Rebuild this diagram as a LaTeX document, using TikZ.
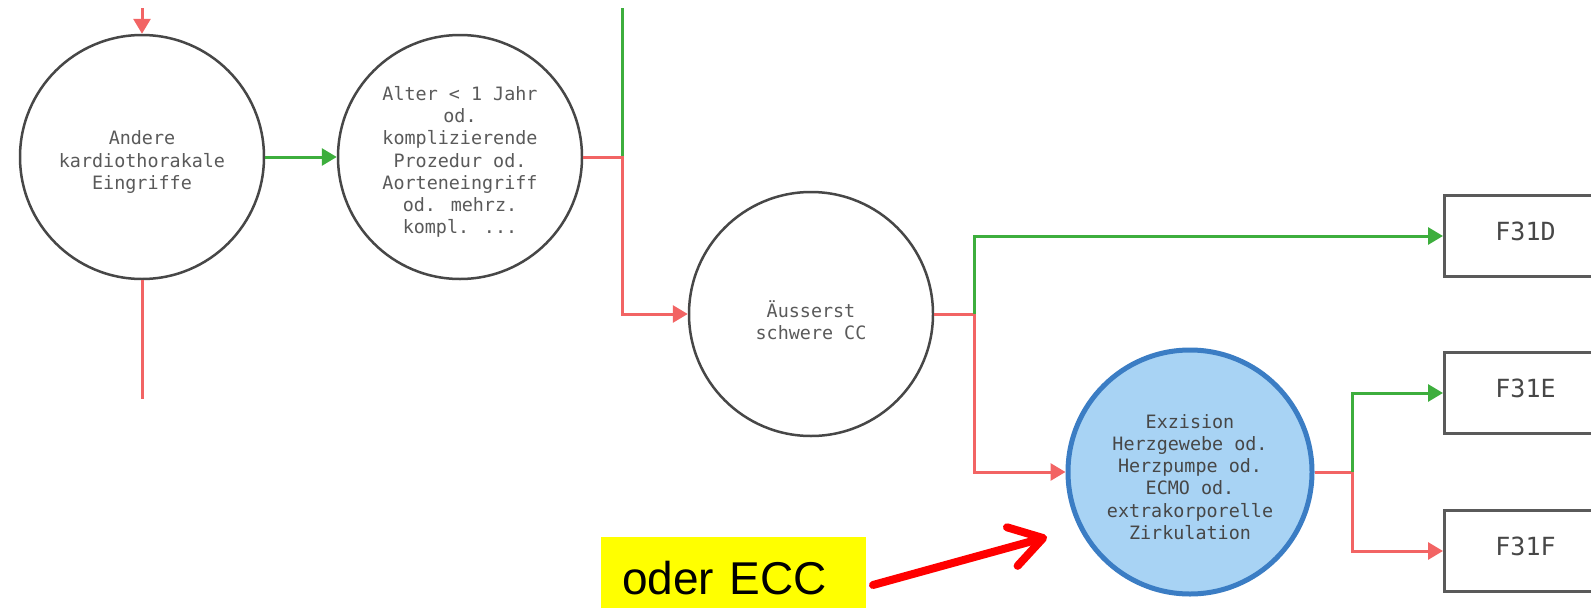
\documentclass[tikz,border=0pt]{standalone}
\usepackage{fontspec}
\setmainfont{Liberation Sans}
\newfontfamily\diagmono{DejaVu Sans Mono}
\usetikzlibrary{arrows.meta}
\definecolor{lgreen}{HTML}{3DAE3D}
\definecolor{lred}{HTML}{F26464}
\definecolor{cgray}{HTML}{474747}
\definecolor{tgray}{HTML}{5A5A5A}
\definecolor{cblue}{HTML}{3B7DC4}
\definecolor{cfill}{HTML}{A8D3F4}
\definecolor{annotred}{HTML}{FF0000}
\definecolor{hiyellow}{HTML}{FFFF00}
\begin{document}
\begin{tikzpicture}[x=1pt,y=-1pt,
  decision/.style={circle, draw=cgray, line width=2.5pt, minimum size=244pt, inner sep=0pt},
  hlcirc/.style={decision, draw=cblue, fill=cfill, line width=5pt},
  ctext/.style={align=center, inner sep=0pt, text=tgray, font=\diagmono\fontsize{18.4}{22.2}\selectfont},
  result/.style={draw=tgray, line width=3pt, minimum width=162pt, minimum height=81pt,
    anchor=west, inner sep=0pt, text depth=10pt, text=black!72,
    font=\diagmono\fontsize{25}{30}\selectfont},
  yesarrow/.style={draw=lgreen, line width=3pt, -{Triangle[length=15pt,width=17pt]}},
  yesline/.style={draw=lgreen, line width=3pt},
  noarrow/.style={draw=lred, line width=3pt, -{Triangle[length=15pt,width=17pt]}},
  noline/.style={draw=lred, line width=3pt},
  annot/.style={draw=annotred, line width=8pt, line cap=round,
    -{Straight Barb[length=32pt,width=40pt,round]}},
  hlbox/.style={fill=hiyellow, minimum width=265pt, minimum height=82pt, anchor=north west,
    inner xsep=21pt, text width=223pt, align=left, font=\fontsize{46}{50}\selectfont}
]
\useasboundingbox (0,0) rectangle (1591,608);
\fill[white] (0,0) rectangle (1591,608);
\clip (0,0) rectangle (1591,608);

% decision circles
\node[decision] (c1) at (142,157) {};
\node[ctext] (c1t) at ([yshift=-5pt]c1.center) {Andere\\kardiothorakale\\Eingriffe};
\node[decision] (c2) at (460,157) {};
\node[ctext] (c2t) at ([yshift=-5pt]c2.center) {Alter < 1 Jahr\\od.\\komplizierende\\Prozedur od.\\Aorteneingriff\\od. mehrz.\\kompl. ...};
\node[decision] (c3) at (811,314) {};
\node[ctext] (c3t) at ([yshift=-6pt]c3.center) {Äusserst\\schwere CC};
\node[hlcirc] (c4) at (1190,472) {};
\node[ctext, text=black!72] (c4t) at ([yshift=-5pt]c4.center) {Exzision\\Herzgewebe od.\\Herzpumpe od.\\ECMO od.\\extrakorporelle\\Zirkulation};

% results
\node[result] (d) at (1443,236) {F31D};
\node[result] (e) at (1443,393) {F31E};
\node[result] (f) at (1443,551) {F31F};

% helper coordinates
\coordinate (top1) at (142,8);
\coordinate (bot1) at (142,399);
\coordinate (top2) at (622,8);
\coordinate (j1) at (622,157);
\coordinate (j2) at (974,314);
\coordinate (j3) at (1352,472);

% connectors
\draw[noarrow] (top1) -- (c1.north);
\draw[noline] (c1.south) -- (bot1);
\draw[yesarrow] (c1.east) -- (c2.west);
\draw[yesline] (j1) -- (top2);
\draw[noarrow] (c2.east) -- (j1) |- (c3.west);
\draw[noline] (c3.east) -- (j2);
\draw[yesarrow] (j2) |- (d.west);
\draw[noarrow] (j2) |- (c4.west);
\draw[noline] (c4.east) -- (j3);
\draw[yesarrow] (j3) |- (e.west);
\draw[noarrow] (j3) |- (f.west);

% annotation
\node[hlbox] (ecc) at (601,537) {oder ECC};
\coordinate (as) at (873,585);
\coordinate (at) at (1047,537);
\draw[annot] (as) -- (at);
\end{tikzpicture}
\end{document}
